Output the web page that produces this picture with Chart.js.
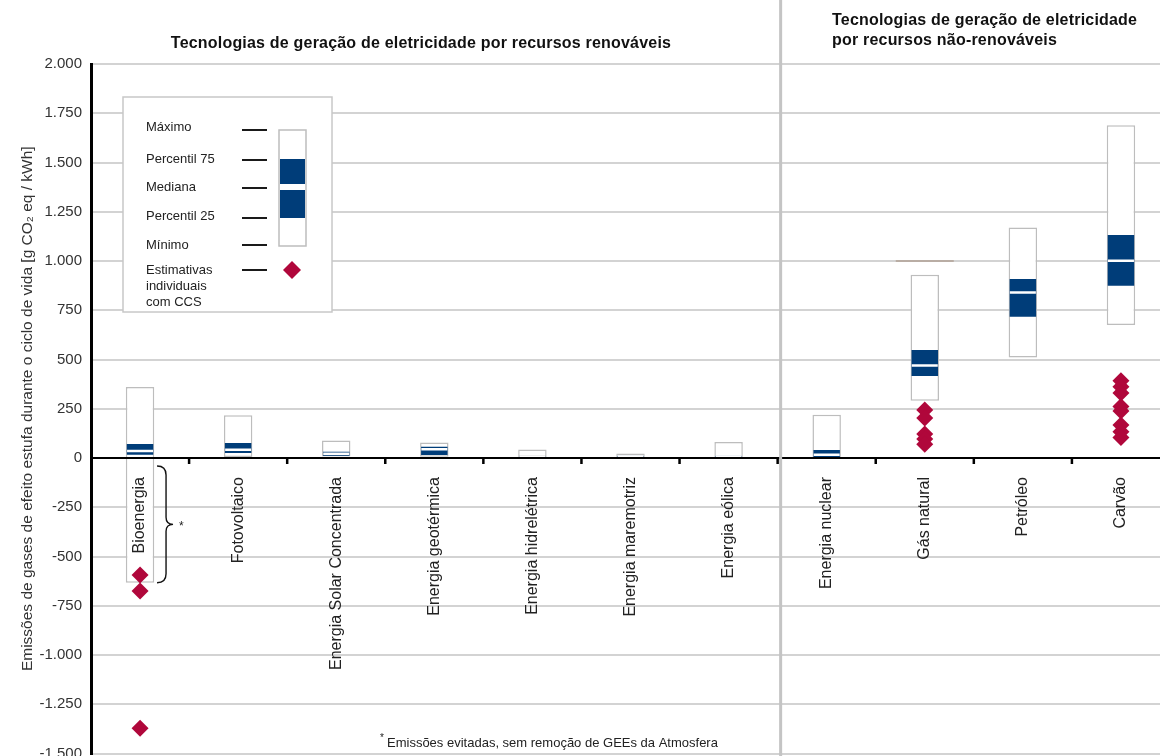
<!DOCTYPE html>
<html lang="pt">
<head>
<meta charset="utf-8">
<title>Emissões de GEE no ciclo de vida por tecnologia</title>
<script src="https://cdn.jsdelivr.net/npm/chart.js@4/dist/chart.umd.min.js"></script>
<style>
  html, body { margin: 0; padding: 0; background: #fff; overflow: hidden; }
  #wrap { width: 1172px; height: 756px; }
</style>
</head>
<body>
<div id="wrap"><canvas id="chart" width="1172" height="756"></canvas></div>
<script>
// categorias (eixo x)
const categories = [
  'Bioenergia', 'Fotovoltaico', 'Energia Solar Concentrada', 'Energia geotérmica',
  'Energia hidrelétrica', 'Energia maremotriz', 'Energia eólica',
  'Energia nuclear', 'Gás natural', 'Petróleo', 'Carvão'
];

// estatísticas das caixas, g CO2 eq / kWh
const minimum = [-633, 5, 7, 6, 0, 2, 2, 1, 290, 510, 675];
const p25     = [17, 25, 12, 15, 2, 2, 3, 4, 416, 717, 875];
const median  = [35, 42, 22, 45, 4, 8, 8, 16, 469, 840, 1001];
const p75     = [71, 76, 32, 57, 7, 12, 12, 41, 548, 909, 1132];
const maximum = [360, 217, 89, 79, 43, 23, 81, 220, 930, 1170, 1689];

// estimativas individuais com CCS
const ccsCategory = [
  'Bioenergia', 'Bioenergia', 'Bioenergia',
  'Gás natural', 'Gás natural', 'Gás natural', 'Gás natural', 'Gás natural',
  'Carvão', 'Carvão', 'Carvão', 'Carvão', 'Carvão', 'Carvão', 'Carvão', 'Carvão'
];
const ccsValue = [
  -594, -675, -1372,
  244, 203, 122, 96, 70,
  392, 362, 330, 262, 238, 168, 133, 104
];

// traço isolado acima da caixa do gás natural
const extraCategory = ['Gás natural'];
const extraValue = [1000];

// ticks do eixo y
const yTicks = [-1500, -1250, -1000, -750, -500, -250, 0, 250, 500, 750, 1000, 1250, 1500, 1750, 2000];

const FONT = "'Liberation Sans', Arial, sans-serif";
const BLUE = '#003d79';
const RED = '#b0073b';
const GRID = '#d3d3d3';
const BOXLINE = '#bdbdbd';

function fmt(v) {
  const s = String(Math.abs(v)).replace(/\B(?=(\d{3})+(?!\d))/g, '.');
  return (v < 0 ? '-' : '') + s;
}

const decor = {
  id: 'decor',
  afterDatasetsDraw(chart) {
    const { ctx, chartArea } = chart;
    const xs = chart.scales.x, ys = chart.scales.y;
    const y0 = ys.getPixelForValue(0);
    ctx.save();
    // linha do zero
    ctx.strokeStyle = '#000';
    ctx.lineWidth = 2;
    ctx.beginPath();
    ctx.moveTo(chartArea.left, y0);
    ctx.lineTo(chartArea.right, y0);
    ctx.stroke();
    // marcas entre categorias
    ctx.lineWidth = 2.5;
    for (let i = 1; i < categories.length; i++) {
      const x = (xs.getPixelForValue(i - 1) + xs.getPixelForValue(i)) / 2;
      ctx.beginPath();
      ctx.moveTo(x, y0);
      ctx.lineTo(x, y0 + 6);
      ctx.stroke();
    }
    // rótulos das categorias
    ctx.fillStyle = '#222';
    ctx.font = '16px ' + FONT;
    ctx.textAlign = 'right';
    ctx.textBaseline = 'middle';
    categories.forEach((c, i) => {
      ctx.save();
      ctx.translate(xs.getPixelForValue(i), y0 + 19);
      ctx.rotate(-Math.PI / 2);
      ctx.fillText(c, 0, 0);
      ctx.restore();
    });
    ctx.restore();
  },
  afterDraw(chart) {
    const { ctx } = chart;
    const xs = chart.scales.x, ys = chart.scales.y;
    const y0 = ys.getPixelForValue(0);
    ctx.save();

    // separador renováveis / não-renováveis
    const sepX = (xs.getPixelForValue(6) + xs.getPixelForValue(7)) / 2 + 3;
    ctx.strokeStyle = '#c4c4c4';
    ctx.lineWidth = 3;
    ctx.beginPath();
    ctx.moveTo(sepX, 0);
    ctx.lineTo(sepX, 756);
    ctx.stroke();

    // títulos dos grupos
    ctx.fillStyle = '#111';
    ctx.font = 'bold 16px ' + FONT;
    ctx.letterSpacing = '0.2px';
    ctx.textBaseline = 'middle';
    ctx.textAlign = 'center';
    ctx.fillText('Tecnologias de geração de eletricidade por recursos renováveis', 421, 44);
    ctx.textAlign = 'left';
    ctx.fillText('Tecnologias de geração de eletricidade', 832, 21);
    ctx.fillText('por recursos não-renováveis', 832, 41);
    ctx.letterSpacing = '0px';

    // legenda
    ctx.fillStyle = '#fff';
    ctx.strokeStyle = '#c8c8c8';
    ctx.lineWidth = 1.5;
    ctx.fillRect(123, 97, 209, 215);
    ctx.strokeRect(123, 97, 209, 215);
    ctx.fillStyle = '#222';
    ctx.font = '13px ' + FONT;
    ctx.textAlign = 'left';
    const rows = [['Máximo', 127, 130], ['Percentil 75', 159, 160], ['Mediana', 187, 188],
                  ['Percentil 25', 216, 218], ['Mínimo', 245, 245], ['Estimativas', 270, 270]];
    ctx.strokeStyle = '#000';
    ctx.lineWidth = 1.8;
    rows.forEach(([t, ty, ly]) => {
      ctx.fillText(t, 146, ty);
      ctx.beginPath();
      ctx.moveTo(242, ly);
      ctx.lineTo(267, ly);
      ctx.stroke();
    });
    ctx.fillText('individuais', 146, 286);
    ctx.fillText('com CCS', 146, 302);
    ctx.fillStyle = '#fff';
    ctx.strokeStyle = BOXLINE;
    ctx.lineWidth = 1.5;
    ctx.fillRect(279, 130, 27, 116);
    ctx.strokeRect(279, 130, 27, 116);
    ctx.fillStyle = BLUE;
    ctx.fillRect(280, 159, 25, 59);
    ctx.fillStyle = '#fff';
    ctx.fillRect(280, 184, 25, 6);
    ctx.fillStyle = RED;
    ctx.beginPath();
    ctx.moveTo(292, 261);
    ctx.lineTo(301, 270);
    ctx.lineTo(292, 279);
    ctx.lineTo(283, 270);
    ctx.closePath();
    ctx.fill();

    // chave da bioenergia
    const bx = xs.getPixelForValue(0) + 17;
    const top = y0 + 8, bot = ys.getPixelForValue(minimum[0]);
    const mid = (top + bot) / 2;
    ctx.strokeStyle = '#111';
    ctx.lineWidth = 1.4;
    ctx.beginPath();
    ctx.moveTo(bx, top);
    ctx.quadraticCurveTo(bx + 9, top, bx + 9, top + 9);
    ctx.lineTo(bx + 9, mid - 7);
    ctx.quadraticCurveTo(bx + 9, mid, bx + 16, mid);
    ctx.quadraticCurveTo(bx + 9, mid, bx + 9, mid + 7);
    ctx.lineTo(bx + 9, bot - 9);
    ctx.quadraticCurveTo(bx + 9, bot, bx, bot);
    ctx.stroke();
    ctx.fillStyle = '#222';
    ctx.font = '12px ' + FONT;
    ctx.fillText('*', bx + 22, mid + 2);

    // nota de rodapé
    ctx.font = '10px ' + FONT;
    ctx.fillText('*', 380, 738);
    ctx.font = '13px ' + FONT;
    ctx.fillText('Emissões evitadas, sem remoção de GEEs da Atmosfera', 387, 743);
    ctx.restore();
  }
};

new Chart('chart', {
  type: 'bar',
  data: {
    labels: categories,
    datasets: [
      {
        label: 'Estimativas individuais com CCS',
        type: 'line',
        data: ccsCategory.map((c, i) => ({ x: c, y: ccsValue[i] })),
        showLine: false,
        pointStyle: 'rectRot',
        pointRadius: 8.5,
        pointBackgroundColor: RED,
        pointBorderWidth: 0,
        order: 1
      },
      {
        label: 'Mediana',
        type: 'line',
        data: categories.map((c, i) => ({ x: c, y: median[i] })),
        showLine: false,
        pointStyle: 'line',
        pointRadius: 13,
        pointBorderColor: '#fff',
        pointBorderWidth: 2.5,
        order: 2
      },
      {
        label: 'Percentil 25-75',
        data: categories.map((c, i) => [p25[i], p75[i]]),
        backgroundColor: BLUE,
        borderWidth: 0,
        barPercentage: 0.27,
        order: 3
      },
      {
        label: 'Mínimo-Máximo',
        data: categories.map((c, i) => [minimum[i], maximum[i]]),
        backgroundColor: '#fff',
        borderColor: BOXLINE,
        borderWidth: 1.5,
        borderSkipped: false,
        barPercentage: 0.29,
        order: 4
      },
      {
        label: 'Traço',
        type: 'line',
        data: extraCategory.map((c, i) => ({ x: c, y: extraValue[i] })),
        showLine: false,
        pointStyle: 'line',
        pointRadius: 29,
        pointBorderColor: '#b9ada4',
        pointBorderWidth: 2,
        order: 5
      }
    ]
  },
  options: {
    responsive: false,
    animation: false,
    datasets: { bar: { grouped: false, categoryPercentage: 1 } },
    layout: { autoPadding: false, padding: { top: 64, bottom: 2.5, right: 2, left: 0 } },
    plugins: { legend: { display: false }, tooltip: { enabled: false } },
    scales: {
      x: { display: false, offset: true },
      y: {
        min: yTicks[0],
        max: yTicks[yTicks.length - 1],
        afterFit(s) { s.width = 91; s.paddingTop = 0; s.paddingBottom = 0; },
        afterBuildTicks(s) { s.ticks = yTicks.map(v => ({ value: v })); },
        border: { color: '#000', width: 3 },
        grid: {
          color: c => (c.tick && c.tick.value === 0 ? 'rgba(0,0,0,0)' : GRID),
          lineWidth: 2,
          drawTicks: false
        },
        ticks: {
          padding: 9,
          color: '#333',
          font: { family: FONT, size: 15 },
          callback: v => fmt(v)
        },
        title: {
          display: true,
          text: 'Emissões de gases de efeito estufa durante o ciclo de vida [g CO₂ eq / kWh]',
          color: '#333',
          font: { family: FONT, size: 15.5 },
          padding: { top: 18, bottom: 0 }
        }
      }
    }
  },
  plugins: [decor]
});
</script>
</body>
</html>
